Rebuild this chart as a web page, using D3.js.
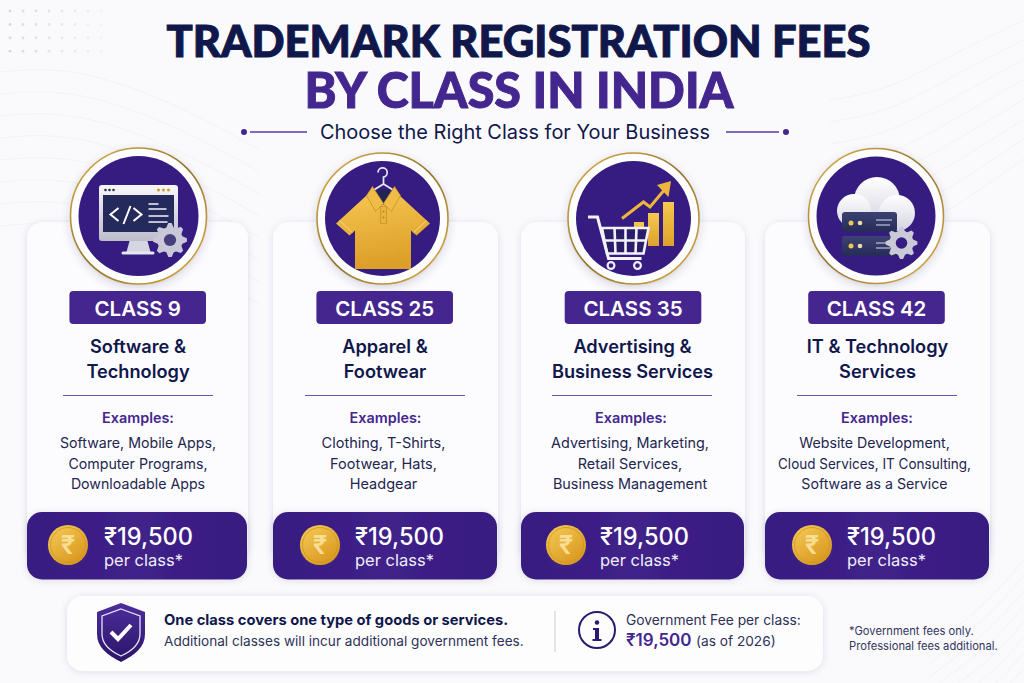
<!DOCTYPE html>
<html>
<head>
<meta charset="utf-8">
<script src="https://cdn.jsdelivr.net/npm/d3@7"></script>
<style>
  html, body { margin: 0; padding: 0; background: #fafafc; }
  svg { display: block; font-family: Inter, "Noto Sans", sans-serif; }
</style>
</head>
<body>
<svg id="chart" width="1024" height="683"></svg>
<script>
// chart content
const classNames = ["CLASS 9", "CLASS 25", "CLASS 35", "CLASS 42"];
const classTitles = [
  ["Software &", "Technology"],
  ["Apparel &", "Footwear"],
  ["Advertising &", "Business Services"],
  ["IT & Technology", "Services"]
];
const classExamples = [
  ["Software, Mobile Apps,", "Computer Programs,", "Downloadable Apps"],
  ["Clothing, T-Shirts,", "Footwear, Hats,", "Headgear"],
  ["Advertising, Marketing,", "Retail Services,", "Business Management"],
  ["Website Development,", "Cloud Services, IT Consulting,", "Software as a Service"]
];
const classFees = ["₹19,500", "₹19,500", "₹19,500", "₹19,500"];
const iconKinds = ["monitor", "shirt", "cart", "cloud"];

const titleLines = ["TRADEMARK REGISTRATION FEES", "BY CLASS IN INDIA"];
const subtitleText = "Choose the Right Class for Your Business";
const noteBold = "One class covers one type of goods or services.";
const noteText = "Additional classes will incur additional government fees.";
const govLabel = "Government Fee per class:";
const govFee = "₹19,500";
const govDate = "(as of 2026)";
const footnote = ["*Government fees only.", "Professional fees additional."];

const NAVY = "#10174a", PURPLE = "#44268f", DEEP = "#361c80", GOLD = "#eeb63c";

const svg = d3.select("#chart");
const defs = svg.append("defs");

// the cards are not quite evenly spaced in the picture so the scales are ordinal
const byClass = range => d3.scaleOrdinal().domain(classNames).range(range);
const cardLeft  = byClass([27, 273, 521, 765]);
const cardRight = byClass([248, 498, 745, 990]);
const badgeMid  = byClass([137.7, 384.7, 633, 876.5]);
const titleMid  = byClass([138, 385, 632.5, 877.5]);
const headMid   = byClass([138, 385.5, 631, 877]);
const lineMid   = byClass([138, 383.5, 630, 874.5]);
const lineSize  = byClass([14.2, 14.5, 14.4, 14.2]);
const lineMax   = byClass([160, 160, 160, 193]);
const ruleMid   = byClass([138, 385, 632, 877]);
const ruleHalf  = byClass([75, 80, 80, 80]);
const iconX     = byClass([138.5, 382.5, 633.5, 876]);
const iconY     = byClass([216, 218.5, 218.5, 216]);
const iconR     = byClass([68, 65.5, 65.5, 67.5]);
const coinX     = byClass([68, 320, 566, 812]);
const feeX      = byClass([104, 355, 600, 847]);

function shadow(id, dy, blur, op) {
  const f = defs.append("filter").attr("id", id)
    .attr("x", "-20%").attr("y", "-20%").attr("width", "140%").attr("height", "140%");
  f.append("feDropShadow").attr("dx", 0).attr("dy", dy).attr("stdDeviation", blur)
    .attr("flood-color", "#3a3470").attr("flood-opacity", op);
}
shadow("cardShadow", 1, 3.5, 0.13);
shadow("ringShadow", 3, 4, 0.2);
shadow("smallShadow", 2, 2, 0.35);

function linear(id, stops, x2, y2) {
  const g = defs.append("linearGradient").attr("id", id)
    .attr("x1", 0).attr("y1", 0).attr("x2", x2).attr("y2", y2);
  stops.forEach(([o, c]) => g.append("stop").attr("offset", o).attr("stop-color", c));
}
linear("goldRing", [[0, "#e0b450"], [0.5, "#94722a"], [1, "#e0b04a"]], 1, 1);
linear("coinFill", [[0, "#f6cd58"], [1, "#d9971f"]], 0.7, 1);
linear("shirtFill", [[0, "#f5c551"], [1, "#dc9f27"]], 0.2, 1);
linear("barFill", [[0, "#f6c84f"], [1, "#dda22b"]], 0, 1);
linear("purpleBand", [[0, "#371b80"], [0.5, "#40218a"], [1, "#371b80"]], 1, 0);
linear("shieldFill", [[0, "#4d2d9c"], [1, "#2b1568"]], 0, 1);
linear("steel", [[0, "#f7f7fb"], [1, "#bcbccb"]], 0, 1);
linear("cloudFill", [[0, "#ffffff"], [1, "#d4d4e2"]], 0, 1);
linear("server", [[0, "#3b4273"], [1, "#262b58"]], 0, 1);

function drawCoin(g, x, y, r) {
  const c = g.append("g").attr("transform", `translate(${x},${y})`);
  c.append("circle").attr("r", r).attr("fill", "url(#coinFill)").attr("filter", "url(#smallShadow)");
  c.append("circle").attr("r", r - 2.5).attr("fill", "none").attr("stroke", "#cf9522").attr("stroke-width", 0.8);
  c.append("text").attr("text-anchor", "middle").attr("y", 9).attr("font-size", 26)
    .attr("font-weight", 600).attr("fill", "#f8dd92").text("₹");
}

function gear(g, x, y, r, fill, hole) {
  const teeth = 8;
  const pts = d3.range(teeth * 4).map(i => {
    const a = (i / (teeth * 4)) * 2 * Math.PI - 0.1;
    const rr = (i % 4 < 2) ? r : r * 0.76;
    return [x + rr * Math.cos(a), y + rr * Math.sin(a)];
  });
  g.append("path").attr("d", d3.line()(pts) + "Z").attr("fill", fill);
  g.append("circle").attr("cx", x).attr("cy", y).attr("r", r * 0.52).attr("fill", fill);
  g.append("circle").attr("cx", x).attr("cy", y).attr("r", r * 0.36).attr("fill", hole);
}

const icons = {
  monitor(g) {
    g.append("rect").attr("x", -39.5).attr("y", -31).attr("width", 79).attr("height", 56).attr("rx", 3).attr("fill", "url(#steel)");
    g.append("rect").attr("x", -35.5).attr("y", -21).attr("width", 71).attr("height", 37).attr("fill", "#242a5c");
    g.append("path").attr("d", "M-9 25h18l3 11h-24z").attr("fill", "#d6d6e2");
    g.append("rect").attr("x", -17).attr("y", 35.5).attr("width", 33).attr("height", 3).attr("rx", 1.5).attr("fill", "#e6e6f0");
    [-33, -29, -25].forEach(x => g.append("circle").attr("cx", x).attr("cy", -26).attr("r", 1.3).attr("fill", "#2c2c55"));
    [20, 25, 30].forEach(x => g.append("circle").attr("cx", x).attr("cy", -26).attr("r", 1.5).attr("fill", "#d09a2c"));
    g.append("path").attr("d", "M-20 -8l-8 6.5l8 6.5 M-15 8l7 -18 M-5 -8l8 6.5l-8 6.5")
      .attr("fill", "none").attr("stroke", "#fff").attr("stroke-width", 2);
    g.append("path").attr("d", "M10 -12h10 M10 -7h18 M10 0h20 M10 6h19")
      .attr("fill", "none").attr("stroke", "#f2f2fa").attr("stroke-width", 1.6);
    gear(g, 31.5, 24, 17, "#c8c8d8", "#45407c");
  },
  shirt(g) {
    g.append("path").attr("d", "M-4.5 -46a4.6 4.6 0 1 1 5.5 4.5v7l-13 8M1 -34.5l13 8")
      .attr("fill", "none").attr("stroke", "#e8e8f2").attr("stroke-width", 1.7);
    g.append("path")
      .attr("d", "M-16 -23L-46.5 5L-33 17L-27.5 12V50.5H28.5V12L34 17L47.5 5L17 -23L1 -14z")
      .attr("fill", "url(#shirtFill)");
    g.append("ellipse").attr("cx", 1).attr("cy", -22).attr("rx", 10).attr("ry", 7).attr("fill", "#1f2450");
    g.append("path").attr("d", "M-10 -32L-16 -23L-7 -7L1 -15z M12 -32L18 -23L9 -7L1 -15z")
      .attr("fill", "#efbd47").attr("stroke", "#c48c20").attr("stroke-width", 0.7);
    g.append("path").attr("d", "M-2 -12h6v17h-6z").attr("fill", "#e9b540").attr("stroke", "#c48c20").attr("stroke-width", 0.7);
    [-7, -1].forEach(y => g.append("circle").attr("cx", 1).attr("cy", y).attr("r", 1).attr("fill", "#b9841c"));
    g.append("path").attr("d", "M-43 2L-30 14 M44 2L31 14").attr("stroke", "#f8d77a").attr("stroke-width", 1);
  },
  cart(g) {
    g.append("rect").attr("x", 0.5).attr("y", 3.5).attr("width", 10).attr("height", 24).attr("fill", "url(#barFill)");
    g.append("rect").attr("x", 14.5).attr("y", -5.5).attr("width", 11).attr("height", 33).attr("fill", "url(#barFill)");
    g.append("rect").attr("x", 29.5).attr("y", -16.5).attr("width", 11).attr("height", 44).attr("fill", "url(#barFill)");
    g.append("path").attr("d", "M-11.5 0L10 -16.5L16.5 -11.5L32 -30").attr("fill", "none").attr("stroke", GOLD).attr("stroke-width", 3);
    g.append("path").attr("d", "M37.5 -37.5L35 -21.5L23.5 -33.5z").attr("fill", GOLD);
    g.append("path").attr("d", "M-31.5 9.5H15L10 35H-26.5z").attr("fill", "#2a1d6a");
    g.append("path").attr("d", "M-45.5 -1.5H-36L-25 40H8")
      .attr("fill", "none").attr("stroke", "#f2f2f8").attr("stroke-width", 3);
    g.append("path").attr("d", "M-31.5 9.5H15L10 35H-26.5z M-29 22H12.5 M-19 9.5L-18 35 M-8 9.5V35 M3 9.5L2 35")
      .attr("fill", "none").attr("stroke", "#f2f2f8").attr("stroke-width", 2.6);
    [-22.5, 4].forEach(x => g.append("circle").attr("cx", x).attr("cy", 47).attr("r", 3.4).attr("fill", DEEP).attr("stroke", "#eeeef5").attr("stroke-width", 2.2));
  },
  cloud(g) {
    const c = g.append("g").attr("fill", "url(#cloudFill)");
    c.append("circle").attr("cx", 1).attr("cy", -16).attr("r", 23);
    c.append("circle").attr("cx", -22).attr("cy", -5).attr("r", 17);
    c.append("circle").attr("cx", 21).attr("cy", -3).attr("r", 18);
    [[-4, 7, 4], [20, 30, 27]].forEach(([top, dots, line]) => {
      g.append("rect").attr("x", -34).attr("y", top).attr("width", 55).attr("height", 20).attr("rx", 3).attr("fill", "url(#server)");
      g.append("circle").attr("cx", -25).attr("cy", dots).attr("r", 2.5).attr("fill", "#f0c757");
      g.append("circle").attr("cx", -16).attr("cy", dots).attr("r", 2.3).attr("fill", "#ecdca4");
      g.append("path").attr("d", `M0 ${line}h16 M0 ${line + 5}h14`).attr("stroke", "#dcdcea").attr("stroke-width", 1.2);
    });
    gear(g, 25.5, 27, 16, "#c9c9d8", DEEP);
  }
};

// background
svg.append("rect").attr("width", 1024).attr("height", 683).attr("fill", "#fafafc");

// faint wave lines left and right
const wave = d3.line().curve(d3.curveBasis);
const gWaves = svg.append("g").attr("fill", "none").attr("stroke", "#f0f0f6").attr("stroke-width", 0.8);
d3.range(8).forEach(i => {
  const d = 22 * i;
  gWaves.append("path").attr("d", wave([[0, 72 + d], [70, 66 + d], [170, 100 + d], [260, 150 + d]]));
  gWaves.append("path").attr("d", wave([[1024, 20 + d * 0.9], [960, 50 + d], [890, 90 + d], [830, 100 + d]]));
  gWaves.append("path").attr("d", wave([[1024, 560 + d * 0.7], [990, 600 + d * 0.7], [930, 650 + d * 0.6]]));
});

// dot grid, top left
svg.append("g").selectAll("circle")
  .data(d3.cross(d3.range(8), d3.range(4)))
  .join("circle")
  .attr("cx", d => 10 + d[0] * 13)
  .attr("cy", d => 11 + d[1] * 13.4)
  .attr("r", 1.4)
  .attr("fill", "#d6d6e6")
  .attr("opacity", d => 1 - d[0] * 0.11);

// heading
svg.append("text").attr("x", 518.5).attr("y", 57).attr("text-anchor", "middle")
  .attr("font-family", "Lato, Inter, sans-serif")
  .attr("font-size", 44).attr("font-weight", 900).attr("fill", NAVY)
  .attr("stroke", NAVY).attr("stroke-width", 1)
  .attr("textLength", 704).attr("lengthAdjust", "spacingAndGlyphs").text(titleLines[0]);
svg.append("text").attr("x", 519).attr("y", 107.5).attr("text-anchor", "middle")
  .attr("font-family", "Lato, Inter, sans-serif")
  .attr("font-size", 50).attr("font-weight", 900).attr("fill", PURPLE)
  .attr("stroke", PURPLE).attr("stroke-width", 1)
  .attr("textLength", 429).attr("lengthAdjust", "spacingAndGlyphs").text(titleLines[1]);
svg.append("text").attr("x", 515).attr("y", 139).attr("text-anchor", "middle")
  .attr("font-size", 20).attr("font-weight", 400).attr("fill", NAVY)
  .attr("textLength", 390).attr("lengthAdjust", "spacingAndGlyphs").text(subtitleText);

const gDeco = svg.append("g").attr("stroke", "#5a3aa6").attr("stroke-width", 1.5);
gDeco.append("line").attr("x1", 250).attr("x2", 307).attr("y1", 132).attr("y2", 132);
gDeco.append("line").attr("x1", 726).attr("x2", 779).attr("y1", 132).attr("y2", 132);
svg.append("circle").attr("cx", 244).attr("cy", 132).attr("r", 3).attr("fill", PURPLE);
svg.append("circle").attr("cx", 786).attr("cy", 132).attr("r", 3).attr("fill", PURPLE);

// cards
const cards = svg.append("g").selectAll("g.card")
  .data(classNames.map((name, i) => ({
    name, kind: iconKinds[i], title: classTitles[i], examples: classExamples[i], fee: classFees[i]
  })))
  .join("g").attr("class", "card");

cards.append("rect")
  .attr("x", d => cardLeft(d.name))
  .attr("y", 222)
  .attr("width", d => cardRight(d.name) - cardLeft(d.name))
  .attr("height", 340)
  .attr("rx", 16)
  .attr("fill", "#fcfcfe")
  .attr("filter", "url(#cardShadow)");

// price band
cards.append("rect")
  .attr("x", d => cardLeft(d.name))
  .attr("y", 512)
  .attr("width", d => cardRight(d.name) - cardLeft(d.name) - 1)
  .attr("height", 67.5)
  .attr("rx", 15)
  .attr("fill", "url(#purpleBand)")
  .attr("filter", "url(#cardShadow)");

// badge
cards.append("rect")
  .attr("x", d => badgeMid(d.name) - 68.3)
  .attr("y", 291)
  .attr("width", 136.6)
  .attr("height", 33)
  .attr("rx", 4)
  .attr("fill", "#45268f");
cards.append("text")
  .attr("x", d => badgeMid(d.name))
  .attr("y", 315.5)
  .attr("text-anchor", "middle")
  .attr("font-size", 20.5)
  .attr("font-weight", 600)
  .attr("fill", "#fff")
  .text(d => d.name);

// class title and examples
cards.each(function(d) {
  const g = d3.select(this);
  d.title.forEach((line, i) => {
    g.append("text")
      .attr("x", titleMid(d.name))
      .attr("y", 352.5 + i * 25)
      .attr("text-anchor", "middle")
      .attr("font-size", 18.2)
      .attr("font-weight", 600)
      .attr("fill", NAVY)
      .text(line);
  });
  d.examples.forEach((line, i) => {
    const t = g.append("text")
      .attr("x", lineMid(d.name))
      .attr("y", 448 + i * 20.5)
      .attr("text-anchor", "middle")
      .attr("font-size", lineSize(d.name))
      .attr("fill", "#23264f")
      .text(line);
    // the long line in the last card runs tighter in the picture
    if (t.node().getComputedTextLength() > lineMax(d.name)) {
      t.attr("textLength", lineMax(d.name)).attr("lengthAdjust", "spacingAndGlyphs");
    }
  });
});

cards.append("line")
  .attr("x1", d => ruleMid(d.name) - ruleHalf(d.name))
  .attr("x2", d => ruleMid(d.name) + ruleHalf(d.name))
  .attr("y1", 395.5).attr("y2", 395.5)
  .attr("stroke", "#6a55b4").attr("stroke-width", 1);

cards.append("text")
  .attr("x", d => headMid(d.name))
  .attr("y", 423)
  .attr("text-anchor", "middle")
  .attr("font-size", 14.4)
  .attr("font-weight", 600)
  .attr("fill", PURPLE)
  .text("Examples:");

// coin and fee
cards.each(function(d) { drawCoin(d3.select(this), coinX(d.name), 545, 20); });
cards.append("text")
  .attr("x", d => feeX(d.name))
  .attr("y", 545)
  .attr("font-size", 23.6)
  .attr("font-weight", 500)
  .attr("fill", "#fff")
  .text(d => d.fee);
cards.append("text")
  .attr("x", d => feeX(d.name))
  .attr("y", 566)
  .attr("font-size", 16.5)
  .attr("fill", "#f0eefa")
  .text("per class*");

// round icons sit on top of the card edge
cards.each(function(d) {
  const g = d3.select(this).append("g")
    .attr("transform", `translate(${iconX(d.name)},${iconY(d.name)})`);
  const r = iconR(d.name);
  g.append("circle").attr("r", r).attr("fill", "#fdfdfe")
    .attr("stroke", "url(#goldRing)").attr("stroke-width", 1.6)
    .attr("filter", "url(#ringShadow)");
  g.append("circle").attr("r", r - 8).attr("fill", DEEP);
  icons[d.kind](g);
});

// bottom panel
svg.append("rect").attr("x", 67).attr("y", 596).attr("width", 756).attr("height", 75).attr("rx", 16)
  .attr("fill", "#fdfdfe").attr("filter", "url(#cardShadow)");
svg.append("path").attr("transform", "translate(121,603)")
  .attr("d", "M0 0l24 9v22c0 13 -10 21 -24 28c-14 -7 -24 -15 -24 -28v-22z")
  .attr("fill", "url(#shieldFill)");
svg.append("path").attr("transform", "translate(121,603)")
  .attr("d", "M0 6l19 7v18c0 10 -8 17 -19 22c-11 -5 -19 -12 -19 -22v-18z")
  .attr("fill", "none").attr("stroke", "#e8e4f6").attr("stroke-width", 1.3);
svg.append("path").attr("transform", "translate(121,603)")
  .attr("d", "M-10 29l7 7l13 -14").attr("fill", "none").attr("stroke", "#fff").attr("stroke-width", 4);

svg.append("text").attr("x", 164).attr("y", 625).attr("font-size", 14.7).attr("font-weight", 700)
  .attr("fill", NAVY).text(noteBold);
svg.append("text").attr("x", 164).attr("y", 646).attr("font-size", 13.6)
  .attr("fill", "#2d3058").text(noteText);

svg.append("line").attr("x1", 555).attr("x2", 555).attr("y1", 611).attr("y2", 652)
  .attr("stroke", "#c9c9dc").attr("stroke-width", 1);
svg.append("circle").attr("cx", 597).attr("cy", 630).attr("r", 18).attr("fill", "none")
  .attr("stroke", "#2b1a70").attr("stroke-width", 2);
svg.append("circle").attr("cx", 597).attr("cy", 622.5).attr("r", 2.3).attr("fill", "#2b1a70");
svg.append("path").attr("d", "M593 628h6v11h2.5v2h-9v-2h2.5v-9h-2z").attr("fill", "#2b1a70");

svg.append("text").attr("x", 626).attr("y", 625).attr("font-size", 13.8).attr("fill", "#2d3058").text(govLabel);
svg.append("text").attr("x", 626).attr("y", 646).attr("font-size", 17).attr("font-weight", 600)
  .attr("fill", PURPLE).text(govFee);
svg.append("text").attr("x", 696).attr("y", 646).attr("font-size", 13.7).attr("fill", "#2d3058").text(govDate);

svg.append("g").selectAll("text").data(footnote).join("text")
  .attr("x", 849).attr("y", (d, i) => 635 + i * 15)
  .attr("font-size", 11.2).attr("fill", "#33365c").text(d => d);
</script>
</body>
</html>
